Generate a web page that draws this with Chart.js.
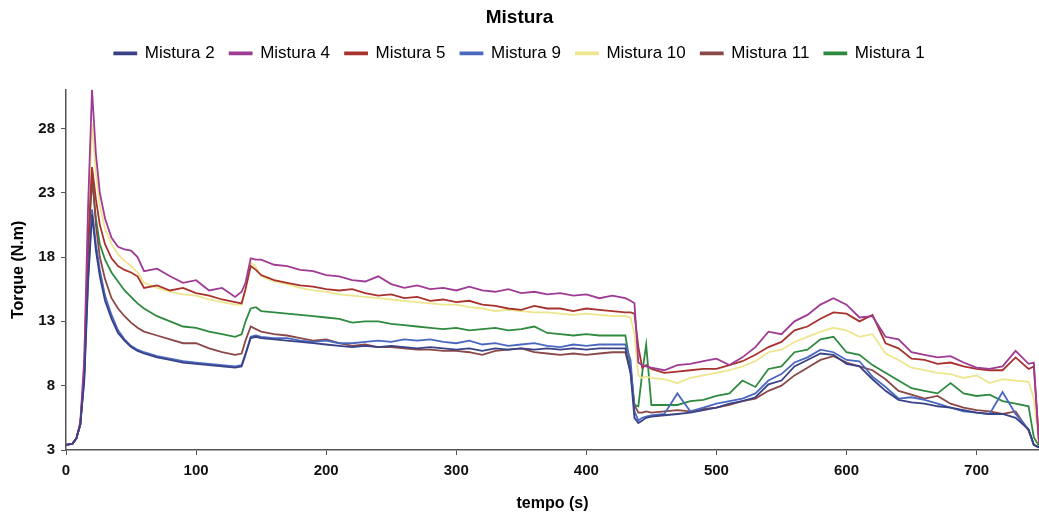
<!DOCTYPE html>
<html>
<head>
<meta charset="utf-8">
<title>Mistura</title>
<script src="https://cdn.jsdelivr.net/npm/chart.js@4.4.1/dist/chart.umd.min.js"></script>
<style>
    html, body { margin: 0; padding: 0; background: #ffffff; }
    #wrap { width: 1039px; height: 517px; position: relative; }
</style>
</head>
<body>
<div id="wrap"><canvas id="chart"></canvas></div>
<script>
// tempo (s) - instants de lecture communs a toutes les courbes
const tempo = [
    0, 5, 8, 11, 14, 17, 20, 23, 26, 30, 35, 40, 45, 50, 55, 60,
    70, 80, 90, 100, 110, 120, 130, 135, 138, 142, 146,
    150, 160, 170, 180, 190, 200, 210, 220, 230, 240,
    250, 260, 270, 280, 290, 300, 310, 320, 330, 340,
    350, 360, 370, 380, 390, 400, 410, 420, 430,
    434, 437, 440, 443, 446,
    450, 460, 470, 480, 490, 500, 510, 520, 530, 540,
    550, 560, 570, 580, 590, 600, 610, 620, 630, 640,
    650, 660, 670, 680, 690, 700, 710, 720, 730, 740,
    744, 748
];

// Torque (N.m)
const mistura2 = [
    3.4, 3.5, 3.9, 5.0, 8.3, 16.0, 21.3, 18.5, 16.5, 14.6, 13.2, 12.1, 11.5, 11.0, 10.7, 10.5,
    10.2, 10.0, 9.8, 9.7, 9.6, 9.5, 9.4, 9.5, 10.4, 11.7, 11.8,
    11.7, 11.6, 11.5, 11.4, 11.3, 11.2, 11.1, 11.0, 11.1, 11.0,
    11.1, 11.0, 10.9, 11.0, 10.9, 10.8, 10.9, 10.7, 10.9, 10.8,
    10.9, 10.8, 10.9, 10.8, 10.9, 10.8, 10.9, 10.9, 10.9,
    9.0, 5.5, 5.1, 5.3, 5.5,
    5.6, 5.7, 5.8, 5.9, 6.1, 6.3, 6.6, 6.8, 7.1, 8.1,
    8.4, 9.5, 10.0, 10.5, 10.4, 9.7, 9.5, 8.5, 7.6, 6.9,
    6.7, 6.6, 6.4, 6.3, 6.1, 5.9, 5.8, 5.8, 5.5, 4.6,
    3.4, 3.2
];
const mistura4 = [
    3.4, 3.5, 3.9, 5.2, 10.0, 22.0, 31.0, 26.0, 23.0, 21.0, 19.5, 18.8, 18.6, 18.5, 18.0, 16.9,
    17.1, 16.5, 16.0, 16.2, 15.4, 15.6, 14.9, 15.3, 16.0, 17.9, 17.8,
    17.8, 17.4, 17.3, 17.0, 16.9, 16.6, 16.5, 16.2, 16.1, 16.5,
    15.9, 15.6, 15.8, 15.5, 15.6, 15.4, 15.7, 15.4, 15.3, 15.5,
    15.2, 15.3, 15.1, 15.2, 15.0, 15.1, 14.8, 15.0, 14.8,
    14.6, 14.4, 9.8, 9.6, 9.5,
    9.4, 9.2, 9.6, 9.7, 9.9, 10.1, 9.6, 10.2, 11.0, 12.2,
    12.0, 13.0, 13.5, 14.3, 14.8, 14.3, 13.3, 13.4, 11.8, 11.6,
    10.6, 10.4, 10.2, 10.3, 9.8, 9.4, 9.3, 9.5, 10.7, 9.7,
    9.8, 3.5
];
const mistura5 = [
    3.4, 3.5, 3.9, 5.0, 9.0, 19.0, 25.0, 22.5, 20.5, 19.0, 17.9, 17.3, 17.0, 16.8, 16.5, 15.6,
    15.8, 15.4, 15.6, 15.2, 15.0, 14.7, 14.5, 14.4, 15.5, 17.3, 17.0,
    16.6, 16.2, 16.0, 15.8, 15.7, 15.5, 15.4, 15.5, 15.2, 15.0,
    15.1, 14.8, 14.9, 14.6, 14.7, 14.5, 14.6, 14.3, 14.2, 14.0,
    13.9, 14.2, 14.0, 14.0, 13.8, 14.0, 13.9, 13.8, 13.7,
    13.7, 13.6, 11.0, 9.4, 9.6,
    9.3, 9.0, 9.1, 9.2, 9.3, 9.3, 9.6, 9.9, 10.4, 11.0,
    11.4, 12.3, 12.6, 13.2, 13.7, 13.6, 13.0, 13.5, 11.3, 10.9,
    10.1, 10.0, 9.7, 9.8, 9.5, 9.3, 9.2, 9.2, 10.2, 9.3,
    9.5, 3.6
];
const mistura9 = [
    3.4, 3.5, 3.9, 5.0, 8.5, 16.5, 21.7, 19.0, 17.0, 15.0, 13.5, 12.3, 11.6, 11.1, 10.8, 10.6,
    10.3, 10.1, 9.9, 9.8, 9.7, 9.6, 9.5, 9.6, 10.5, 11.8, 11.9,
    11.8, 11.7, 11.7, 11.5, 11.4, 11.5, 11.3, 11.3, 11.4, 11.5,
    11.4, 11.6, 11.5, 11.6, 11.4, 11.3, 11.5, 11.2, 11.3, 11.1,
    11.2, 11.3, 11.1, 11.0, 11.2, 11.1, 11.2, 11.2, 11.2,
    10.0, 6.0, 5.3, 5.5, 5.6,
    5.7, 5.8, 7.4, 6.0, 6.3, 6.6, 6.8, 7.0, 7.4, 8.4,
    8.9, 9.8, 10.2, 10.8, 10.6, 10.0, 9.9, 8.7, 7.9, 7.0,
    7.1, 6.9, 6.6, 6.3, 6.0, 5.9, 5.8, 7.5, 5.8, 4.6,
    3.4, 3.2
];
const mistura10 = [
    3.4, 3.5, 3.9, 5.0, 9.5, 21.0, 28.4, 24.5, 22.0, 20.2, 19.0, 18.2, 17.7, 17.3, 16.8, 16.0,
    15.6, 15.3, 15.1, 15.0, 14.7, 14.5, 14.3, 14.3, 15.5, 17.6, 17.2,
    16.5, 16.1, 15.9, 15.6, 15.4, 15.3, 15.1, 15.0, 14.9, 14.8,
    14.7, 14.6, 14.5, 14.4, 14.3, 14.3, 14.1, 14.0, 13.8, 13.9,
    13.8, 13.7, 13.7, 13.6, 13.5, 13.6, 13.5, 13.4, 13.4,
    13.3, 12.0, 8.8, 8.6, 8.7,
    8.6, 8.5, 8.2, 8.6, 8.8, 9.0, 9.2, 9.5, 9.9, 10.6,
    10.8, 11.4, 11.8, 12.2, 12.5, 12.3, 11.8, 12.0, 10.5, 10.0,
    9.4, 9.2, 9.0, 8.9, 8.6, 8.8, 8.2, 8.5, 8.4, 8.3,
    7.0, 3.5
];
const mistura11 = [
    3.4, 3.5, 3.9, 5.0, 9.0, 19.0, 24.8, 20.5, 18.0, 16.3, 14.8, 14.0, 13.4, 12.9, 12.5, 12.2,
    11.9, 11.6, 11.3, 11.3, 10.9, 10.6, 10.4, 10.5, 11.5, 12.6, 12.4,
    12.2, 12.0, 11.9, 11.7, 11.5, 11.6, 11.3, 11.1, 11.2, 11.0,
    11.0, 10.9, 10.8, 10.8, 10.7, 10.7, 10.6, 10.4, 10.7, 10.8,
    10.9, 10.6, 10.5, 10.4, 10.5, 10.4, 10.5, 10.6, 10.6,
    9.0, 6.5, 5.9, 5.9, 6.0,
    5.9, 6.0, 6.1, 6.0, 6.2, 6.3, 6.5, 6.8, 7.0, 7.6,
    8.0, 8.8, 9.4, 10.0, 10.3, 9.8, 9.5, 9.2, 8.5, 7.6,
    7.3, 7.0, 7.2, 6.6, 6.3, 6.1, 6.0, 5.8, 6.0, 4.5,
    3.4, 3.2
];
const mistura1 = [
    3.4, 3.5, 3.9, 5.0, 9.0, 18.5, 24.0, 21.0, 19.0, 17.8, 16.8, 16.1, 15.4, 14.9, 14.4, 14.0,
    13.4, 13.0, 12.6, 12.5, 12.2, 12.0, 11.8, 12.0, 13.0, 14.0, 14.1,
    13.8, 13.7, 13.6, 13.5, 13.4, 13.3, 13.2, 12.9, 13.0, 13.0,
    12.8, 12.7, 12.6, 12.5, 12.4, 12.5, 12.3, 12.4, 12.5, 12.3,
    12.4, 12.6, 12.1, 12.0, 11.9, 12.0, 11.9, 11.9, 11.9,
    9.5, 6.5, 6.4, 9.0, 11.2,
    6.5, 6.5, 6.5, 6.8, 6.9, 7.2, 7.4, 8.4, 7.9, 9.3,
    9.5, 10.6, 10.8, 11.6, 11.8, 10.6, 10.4, 9.6, 9.0, 8.4,
    7.8, 7.6, 7.4, 8.2, 7.4, 7.2, 7.3, 6.8, 6.6, 6.4,
    4.0, 3.3
];

// graduations des axes
const xTicks = [0, 100, 200, 300, 400, 500, 600, 700];
const yTicks = [3, 8, 13, 18, 23, 28];

function toPoints(values) {
    return tempo.map((t, i) => ({ x: t, y: values[i] }));
}

function buildLineDataset(label, values, color) {
    return {
        label,
        data: toPoints(values),
        borderColor: color,
        backgroundColor: color,
        borderWidth: 1.8,
        pointRadius: 0,
        pointHoverRadius: 0,
        tension: 0,
        fill: false
    };
}

// espace entre la legende et la zone du graphe
const legendGap = {
    id: 'legendGap',
    beforeUpdate(chart) {
        if (chart.legend && !chart.legend._gapPatched) {
            const fit = chart.legend.fit;
            chart.legend.fit = function() {
                fit.call(this);
                this.height += 18;
            };
            chart.legend._gapPatched = true;
        }
    }
};

const axisFont = { family: '"Liberation Sans", Arial, sans-serif', size: 15, weight: 'bold' };
const axisColor = '#555555';

new Chart(document.getElementById('chart'), {
    type: 'line',
    data: {
        datasets: [
            buildLineDataset('Mistura 2', mistura2, '#3a4287'),
            buildLineDataset('Mistura 4', mistura4, '#9e3b95'),
            buildLineDataset('Mistura 5', mistura5, '#a8322d'),
            buildLineDataset('Mistura 9', mistura9, '#4a68c0'),
            buildLineDataset('Mistura 10', mistura10, '#eee68e'),
            buildLineDataset('Mistura 11', mistura11, '#8a4848'),
            buildLineDataset('Mistura 1', mistura1, '#2e8a3e')
        ]
    },
    options: {
        responsive: true,
        maintainAspectRatio: false,
        animation: false,
        layout: { padding: 0 },
        plugins: {
            title: {
                display: true,
                text: 'Mistura',
                color: '#000000',
                font: { family: '"Liberation Sans", Arial, sans-serif', size: 19, weight: 'bold' },
                padding: { top: 6, bottom: 1 }
            },
            legend: {
                display: true,
                position: 'top',
                labels: {
                    color: '#000000',
                    font: { family: '"Liberation Sans", Arial, sans-serif', size: 17 },
                    boxWidth: 22,
                    boxHeight: 2,
                    padding: 15
                }
            },
            tooltip: { enabled: false }
        },
        scales: {
            x: {
                type: 'linear',
                min: 0,
                max: 748,
                afterBuildTicks: function(scale) {
                    scale.ticks = xTicks.map(v => ({ value: v }));
                },
                afterFit: function(scale) {
                    scale.height = 67;
                },
                ticks: {
                    color: '#111111',
                    font: axisFont,
                    padding: 7,
                    maxRotation: 0
                },
                grid: {
                    drawOnChartArea: false,
                    drawTicks: true,
                    tickLength: 5,
                    color: axisColor
                },
                border: { display: true, color: axisColor, width: 1.5 },
                title: {
                    display: true,
                    text: 'tempo (s)',
                    color: '#000000',
                    font: { family: '"Liberation Sans", Arial, sans-serif', size: 16, weight: 'bold' },
                    padding: { top: 0, bottom: 4 }
                }
            },
            y: {
                type: 'linear',
                min: 3,
                max: 31,
                afterBuildTicks: function(scale) {
                    scale.ticks = yTicks.map(v => ({ value: v }));
                },
                afterFit: function(scale) {
                    scale.width = 66;
                },
                ticks: {
                    color: '#111111',
                    font: axisFont,
                    padding: 6
                },
                grid: {
                    drawOnChartArea: false,
                    drawTicks: true,
                    tickLength: 5,
                    color: axisColor
                },
                border: { display: true, color: axisColor, width: 1.5 },
                title: {
                    display: true,
                    text: 'Torque (N.m)',
                    color: '#000000',
                    font: { family: '"Liberation Sans", Arial, sans-serif', size: 16, weight: 'bold' },
                    padding: { top: 9, bottom: 0 }
                }
            }
        }
    },
    plugins: [legendGap]
});
</script>
</body>
</html>
